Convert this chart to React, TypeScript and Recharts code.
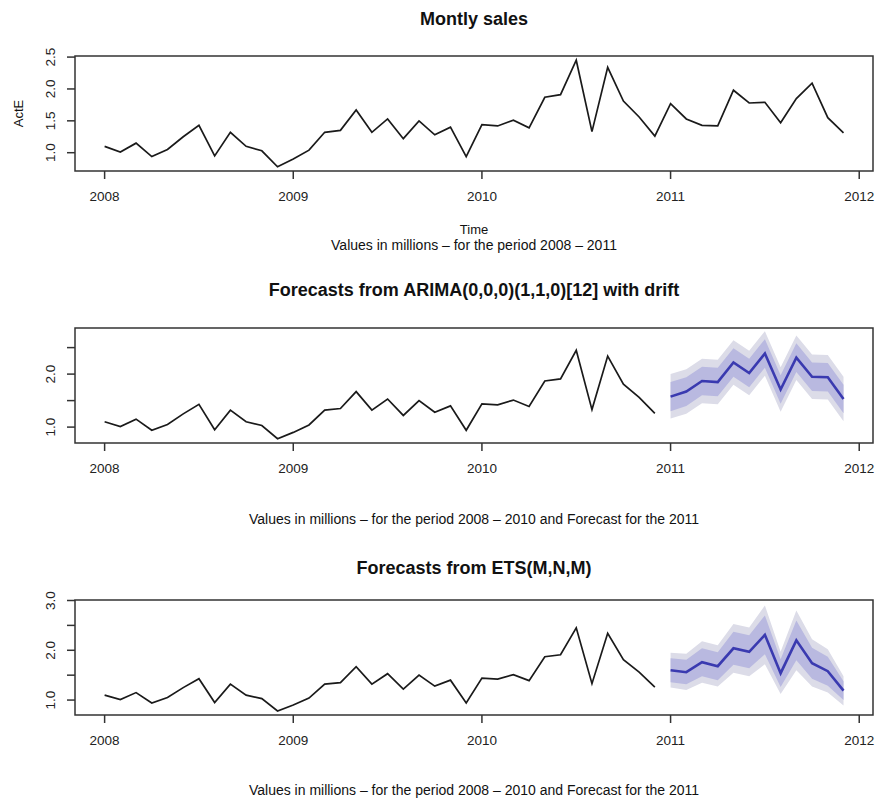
import { ComposedChart, Line, Area, XAxis, YAxis, ReferenceArea } from "recharts"

const FONT = "'Liberation Sans', Arial, Helvetica, sans-serif"
const INK = "#222"

const YEAR_TICKS = [2008, 2009, 2010, 2011, 2012]
const X_DOMAIN: [number, number] = [2007.843, 2012.073]

// monthly sales Jan 2008 .. Dec 2011, in millions
const SALES = [
  1.10, 1.01, 1.15, 0.94, 1.05, 1.25, 1.43, 0.95, 1.32, 1.10, 1.03, 0.78,
  0.90, 1.04, 1.32, 1.35, 1.67, 1.32, 1.53, 1.22, 1.50, 1.28, 1.40, 0.94,
  1.44, 1.42, 1.51, 1.39, 1.87, 1.91, 2.45, 1.33, 2.34, 1.81, 1.56, 1.26,
  1.77, 1.53, 1.43, 1.42, 1.98, 1.78, 1.79, 1.47, 1.85, 2.09, 1.55, 1.31,
]

// ARIMA(0,0,0)(1,1,0)[12] with drift, forecast for 2011
const ARIMA_MEAN = [1.575, 1.67, 1.87, 1.85, 2.22, 2.02, 2.39, 1.71, 2.31, 1.95, 1.94, 1.53]
const ARIMA_HI80 = [1.85, 1.94, 2.14, 2.12, 2.49, 2.29, 2.66, 1.98, 2.58, 2.22, 2.21, 1.80]
const ARIMA_LO80 = [1.30, 1.40, 1.60, 1.58, 1.95, 1.75, 2.12, 1.44, 2.04, 1.68, 1.67, 1.26]
const ARIMA_HI95 = [2.00, 2.09, 2.29, 2.27, 2.64, 2.44, 2.81, 2.13, 2.73, 2.37, 2.36, 1.95]
const ARIMA_LO95 = [1.16, 1.25, 1.45, 1.43, 1.80, 1.60, 1.97, 1.29, 1.89, 1.53, 1.52, 1.11]

// ETS(M,N,M) forecast for 2011
const ETS_MEAN = [1.60, 1.56, 1.76, 1.68, 2.04, 1.97, 2.31, 1.54, 2.20, 1.74, 1.58, 1.19]
const ETS_HI80 = [1.84, 1.81, 2.04, 1.96, 2.37, 2.30, 2.70, 1.82, 2.60, 2.05, 1.87, 1.38]
const ETS_LO80 = [1.36, 1.32, 1.48, 1.40, 1.71, 1.64, 1.92, 1.26, 1.80, 1.43, 1.29, 1.00]
const ETS_HI95 = [1.95, 1.93, 2.18, 2.10, 2.53, 2.46, 2.90, 1.97, 2.80, 2.22, 2.02, 1.48]
const ETS_LO95 = [1.25, 1.20, 1.35, 1.27, 1.55, 1.48, 1.72, 1.12, 1.60, 1.27, 1.15, 0.89]

type Fc = { mean: number[]; lo80: number[]; hi80: number[]; lo95: number[]; hi95: number[] }

const HIST_LEN = 36

function buildRows(fc?: Fc) {
  return SALES.map((v, i) => {
    const row: any = { t: 2008 + i / 12 }
    if (!fc || i < HIST_LEN) row.actual = v
    if (fc && i >= HIST_LEN) {
      const j = i - HIST_LEN
      row.mean = fc.mean[j]
      row.b80 = [fc.lo80[j], fc.hi80[j]]
      row.b95 = [fc.lo95[j], fc.hi95[j]]
    }
    return row
  })
}

const YTick = ({ x, y, payload, labeled }: any) => {
  if (!labeled.includes(payload.value)) return <g />
  return (
    <text transform={`translate(${x - 12},${y}) rotate(-90)`} textAnchor="middle"
      fontSize={13.5} fill={INK} fontFamily={FONT}>
      {payload.value.toFixed(1)}
    </text>
  )
}

interface PanelProps {
  top: number
  fc?: Fc
  yDomain: [number, number]
  yTicks: number[]
  yLabeled: number[]
}

function Panel({ top, fc, yDomain, yTicks, yLabeled }: PanelProps) {
  const data = buildRows(fc)
  return (
    <div style={{ position: "absolute", left: 0, top }}>
      <ComposedChart width={878} height={215} data={data}
        margin={{ top: 56, right: 5, bottom: 0, left: 0 }}>
        <XAxis dataKey="t" type="number" domain={X_DOMAIN} ticks={YEAR_TICKS}
          allowDataOverflow height={44} axisLine={false} tickSize={8} tickMargin={12}
          tickLine={{ stroke: "#333", strokeWidth: 1.5 }}
          tick={{ fontSize: 13.5, fill: INK, fontFamily: FONT }} />
        <YAxis type="number" domain={yDomain} ticks={yTicks} allowDataOverflow
          width={75} axisLine={false} tickSize={8} tickMargin={0}
          tickLine={{ stroke: "#333", strokeWidth: 1.5 }}
          tick={(p: any) => <YTick {...p} labeled={yLabeled} />} />
        {fc && (
          <Area dataKey="b95" stroke="none" fill="#dcdce8" fillOpacity={1}
            isAnimationActive={false} dot={false} activeDot={false} />
        )}
        {fc && (
          <Area dataKey="b80" stroke="none" fill="#b9b9e0" fillOpacity={1}
            isAnimationActive={false} dot={false} activeDot={false} />
        )}
        <Line dataKey="actual" stroke="#1a1a1a" strokeWidth={1.7} dot={false}
          activeDot={false} isAnimationActive={false} />
        {fc && (
          <Line dataKey="mean" stroke="#3a3ab0" strokeWidth={2.6} dot={false}
            activeDot={false} isAnimationActive={false} />
        )}
        <ReferenceArea x1={X_DOMAIN[0]} x2={X_DOMAIN[1]} y1={yDomain[0]} y2={yDomain[1]}
          fill="none" stroke="#333" strokeWidth={1.5} ifOverflow="visible" />
      </ComposedChart>
    </div>
  )
}

const CX = 474

export default function App() {
  const txt = { fontFamily: FONT, fill: "#111", textAnchor: "middle" as const }
  return (
    <div style={{ position: "absolute", left: 0, top: 0, width: 878, height: 799,
      background: "#fff", overflow: "hidden" }}>
      <Panel top={0} yDomain={[0.713, 2.517]} yTicks={[1, 1.5, 2, 2.5]} yLabeled={[1, 1.5, 2, 2.5]} />
      <Panel top={272} yDomain={[0.70, 2.87]} yTicks={[1, 1.5, 2, 2.5]} yLabeled={[1, 2]}
        fc={{ mean: ARIMA_MEAN, lo80: ARIMA_LO80, hi80: ARIMA_HI80, lo95: ARIMA_LO95, hi95: ARIMA_HI95 }} />
      <Panel top={544} yDomain={[0.70, 3.01]} yTicks={[1, 1.5, 2, 2.5, 3]} yLabeled={[1, 2, 3]}
        fc={{ mean: ETS_MEAN, lo80: ETS_LO80, hi80: ETS_HI80, lo95: ETS_LO95, hi95: ETS_HI95 }} />
      <svg width={878} height={799} style={{ position: "absolute", left: 0, top: 0, pointerEvents: "none" }}>
        <text {...txt} x={CX} y={24.5} fontSize={18} fontWeight="bold">Montly sales</text>
        <text {...txt} transform="translate(23,113.5) rotate(-90)" fontSize={13}>ActE</text>
        <text {...txt} x={CX} y={234} fontSize={13}>Time</text>
        <text {...txt} x={CX} y={249.5} fontSize={14}>Values in millions – for the period 2008 – 2011</text>
        <text {...txt} x={CX} y={296} fontSize={18} fontWeight="bold">Forecasts from ARIMA(0,0,0)(1,1,0)[12] with drift</text>
        <text {...txt} x={CX} y={524} fontSize={14}>Values in millions – for the period 2008 – 2010 and Forecast for the 2011</text>
        <text {...txt} x={CX} y={574} fontSize={18} fontWeight="bold">Forecasts from ETS(M,N,M)</text>
        <text {...txt} x={CX} y={795} fontSize={14}>Values in millions – for the period 2008 – 2010 and Forecast for the 2011</text>
      </svg>
    </div>
  )
}
